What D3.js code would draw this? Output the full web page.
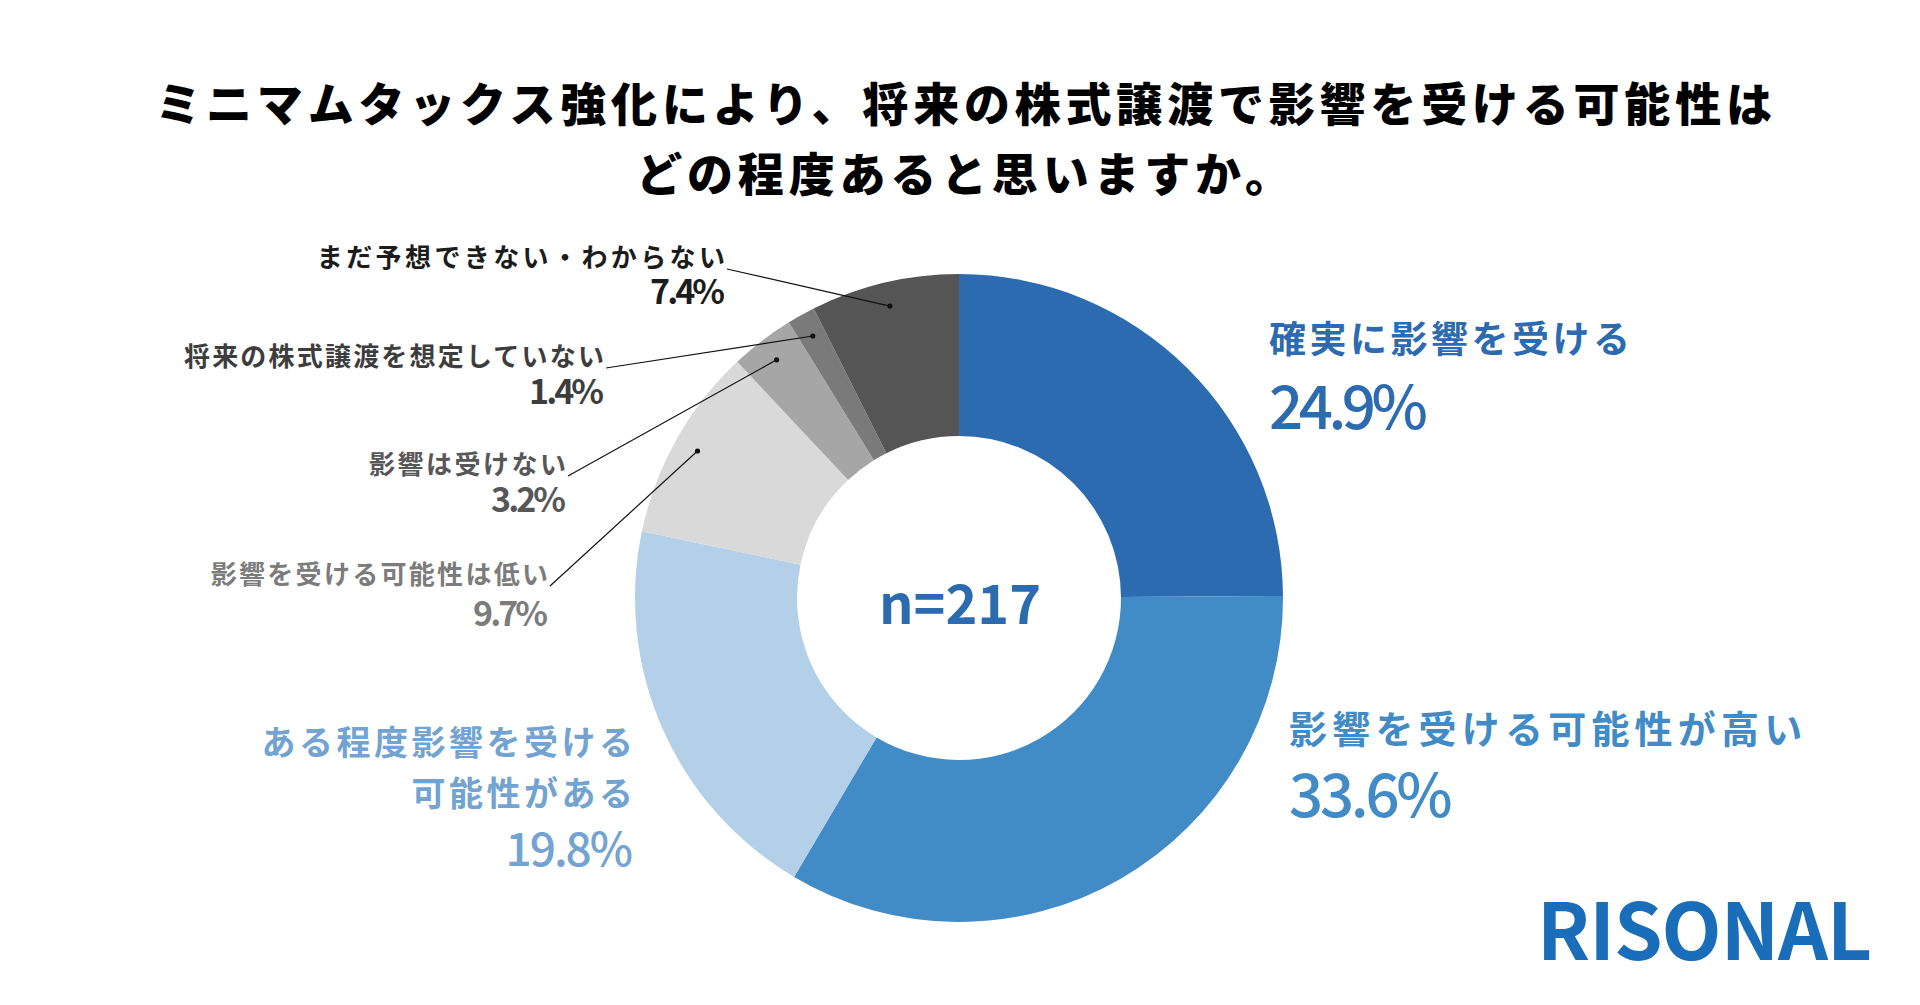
<!DOCTYPE html>
<html>
<head>
<meta charset="utf-8">
<script src="https://cdn.jsdelivr.net/npm/d3@7/dist/d3.min.js"></script>
<style>
  html, body { margin: 0; padding: 0; background: #ffffff; }
  svg { display: block; }
  text { font-family: "Noto Sans CJK JP", "Noto Sans", sans-serif; }
</style>
</head>
<body>
<svg id="chart" width="1920" height="1005"></svg>
<script>
// ---- data ----
const titleLines = ["ミニマムタックス強化により、将来の株式譲渡で影響を受ける可能性は", "どの程度あると思いますか。"];
const categories = [
  "確実に影響を受ける",
  "影響を受ける可能性が高い",
  "ある程度影響を受ける可能性がある",
  "影響を受ける可能性は低い",
  "影響は受けない",
  "将来の株式譲渡を想定していない",
  "まだ予想できない・わからない"
];
const values = [24.9, 33.6, 19.8, 9.7, 3.2, 1.4, 7.4];
const sampleLabel = "n=217";
const brand = "RISONAL";

// ---- styles / layout ----
const sliceColors = ["#2d6bb1", "#418bc6", "#b4d0e8", "#d9d9d9", "#a6a6a6", "#7a7a7a", "#555555"];
const labelColors = ["#2d6bb1", "#418bc6", "#72a3d1", "#7c7c7c", "#575757", "#3d3d3d", "#1c1c1c"];
const labelLayout = [
  { lines: ["確実に影響を受ける"], anchor: "start", x: 1269, ys: [337], pctY: 402, size: 37, ls: 3.5, pctSize: 60, pctLs: -4.5 },
  { lines: ["影響を受ける可能性が高い"], anchor: "start", x: 1289, ys: [726], pctY: 790, size: 38, ls: 5.2, pctSize: 60, pctLs: -3.3 },
  { lines: ["ある程度影響を受ける", "可能性がある"], anchor: "end", x: 633, ys: [740, 791], pctY: 846, size: 34, ls: 3.5, pctSize: 46, pctLs: -2 },
  { lines: ["影響を受ける可能性は低い"], anchor: "end", x: 548, ys: [572], pctY: 611, size: 26, ls: 2.3, pctSize: 34, pctLs: -3, leader: true },
  { lines: ["影響は受けない"], anchor: "end", x: 566, ys: [462], pctY: 497, size: 26, ls: 2.5, pctSize: 34, pctLs: -3, leader: true },
  { lines: ["将来の株式譲渡を想定していない"], anchor: "end", x: 604, ys: [354], pctY: 389, size: 26, ls: 2.2, pctSize: 34, pctLs: -3, leader: true },
  { lines: ["まだ予想できない・わからない"], anchor: "end", x: 725, ys: [255], pctY: 289, size: 26, ls: 3.4, pctSize: 34, pctLs: -3, leader: true }
];

const W = 1920, H = 1005;
const cx = 959, cy = 598, rOuter = 324, rInner = 162, rDot = 300;

const svg = d3.select("#chart");

// title
svg.append("g").selectAll("text").data(titleLines).join("text")
  .attr("x", 966)
  .attr("y", (d, i) => 101 + i * 70)
  .attr("text-anchor", "middle")
  .attr("dominant-baseline", "central")
  .attr("font-size", 46)
  .attr("font-weight", 900)
  .attr("letter-spacing", 4.8)
  .attr("fill", "#000")
  .text(d => d);

// donut
const pie = d3.pie().sort(null).value(d => d)(values);
const arc = d3.arc().innerRadius(rInner).outerRadius(rOuter);
const dotArc = d3.arc().innerRadius(rDot).outerRadius(rDot);

const g = svg.append("g").attr("transform", `translate(${cx},${cy})`);
g.selectAll("path").data(pie).join("path")
  .attr("d", arc)
  .attr("fill", (d, i) => sliceColors[i]);

// center label
svg.append("text")
  .attr("x", cx + 1).attr("y", cy + 2)
  .attr("text-anchor", "middle")
  .attr("dominant-baseline", "central")
  .attr("font-size", 54)
  .attr("font-weight", 700)
  .attr("fill", "#2d6bb1")
  .text(sampleLabel);

// labels
const fmt = v => v.toFixed(1) + "%";
labelLayout.forEach((L, i) => {
  const col = labelColors[i];
  const trail = L.anchor === "end" ? L.ls : 0;
  L.lines.forEach((line, j) => {
    svg.append("text")
      .attr("x", L.x + trail)
      .attr("y", L.ys[j])
      .attr("text-anchor", L.anchor)
      .attr("dominant-baseline", "central")
      .attr("font-size", L.size)
      .attr("font-weight", 700)
      .attr("letter-spacing", L.ls)
      .attr("fill", col)
      .text(line);
  });
  svg.append("text")
    .attr("x", L.x + (L.anchor === "end" ? L.pctLs : 0))
    .attr("y", L.pctY)
    .attr("text-anchor", L.anchor)
    .attr("dominant-baseline", "central")
    .attr("font-size", L.pctSize)
    .attr("font-weight", L.leader ? 700 : 500)
    .attr("letter-spacing", L.pctLs)
    .attr("fill", col)
    .text(fmt(values[i]));

  if (L.leader) {
    const c = dotArc.centroid(pie[i]);
    const px = cx + c[0], py = cy + c[1];
    const sx = L.x + 2, sy = L.ys[0] + 14;
    svg.append("line")
      .attr("x1", sx).attr("y1", sy).attr("x2", px).attr("y2", py)
      .attr("stroke", "#111").attr("stroke-width", 1.2);
    svg.append("circle").attr("cx", px).attr("cy", py).attr("r", 2.6).attr("fill", "#111");
  }
});

// brand
svg.append("text")
  .attr("x", 1537).attr("y", 960)
  .attr("font-family", "Roboto, 'Noto Sans', sans-serif")
  .attr("font-size", 78)
  .attr("font-weight", 700)
  .attr("letter-spacing", -1)
  .attr("fill", "#1a6db8")
  .text(brand);
</script>
</body>
</html>
